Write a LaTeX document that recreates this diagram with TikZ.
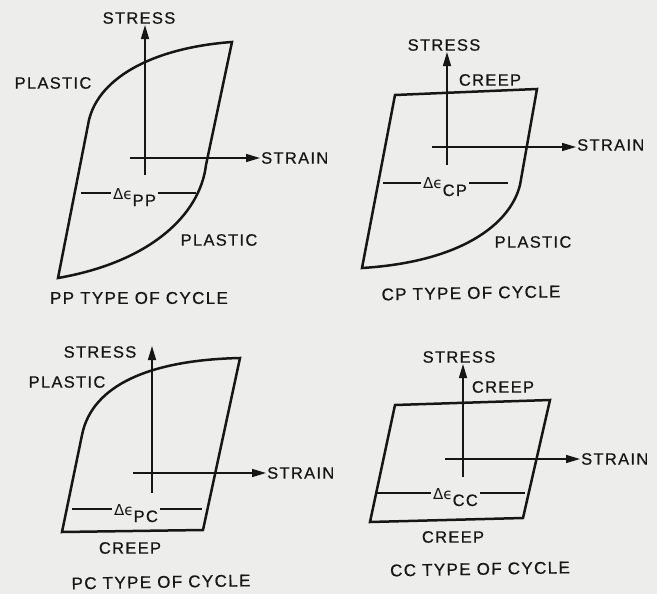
\documentclass[tikz,border=0pt]{standalone}
\usepackage{fontspec}
\usepackage{tikz}
\usetikzlibrary{arrows.meta}
\newfontfamily\labelfont{Liberation Sans}[LetterSpace=8, FakeBold=0.6]
\newfontfamily\greekfont{DejaVu Sans}
\definecolor{scanbg}{RGB}{237,237,235}
\definecolor{ink}{RGB}{22,22,22}
\tikzset{
  lbl/.style={inner sep=1pt, text=ink, font=\labelfont\fontsize{16.5}{18}\selectfont},
  title/.style={lbl, font=\labelfont\fontsize{17}{19}\selectfont},
  loopline/.style={draw=ink, line width=2.5pt, line join=miter},
  axis/.style={draw=ink, line width=1.5pt, -{Triangle[length=14pt,width=8pt]}},
  span/.style={draw=ink, line width=1.2pt},
  delta/.style={lbl, anchor=base west, inner xsep=2pt}
}
\newcommand{\dspan}[1]{{\greekfont\fontsize{15}{17}\selectfont Δϵ}\raisebox{-7pt}{#1}}

\begin{document}
\begin{tikzpicture}[x=1pt, y=-1pt]
  \fill[scanbg] (0,0) rectangle (657,594);
  \useasboundingbox (0,0) rectangle (657,594);

  % PP type of cycle
  \draw[loopline] (232,42) -- (206,165) .. controls (200,215) and (150,262) .. (58,278)
    -- (88,125) .. controls (95,80) and (150,48) .. cycle;
  \node[lbl] (pp-stress) at (139,18) {STRESS};
  \node[lbl, anchor=west] (pp-strain) at (260,158) {STRAIN};
  \coordinate (pp-y0) at (145,175);
  \coordinate (pp-x0) at (130,158);
  \draw[axis] (pp-y0) -- (pp-y0 |- pp-stress.south);
  \draw[axis] (pp-x0) -- (pp-strain.west);
  \node[lbl] (pp-top) at (53,83) {PLASTIC};
  \node[lbl] (pp-bot) at (219,240) {PLASTIC};
  \node[delta] (pp-d) at (111,199) {\dspan{PP}};
  \coordinate (pp-dl) at (81,193);
  \coordinate (pp-dr) at (196,193);
  \draw[span] (pp-dl) -- (pp-dl -| pp-d.west);
  \draw[span] (pp-dr -| pp-d.east) -- (pp-dr);
  \node[title] (pp-title) at (139,298) {PP TYPE OF CYCLE};

  % CP type of cycle
  \draw[loopline] (395,95) -- (537,89) -- (520,185) .. controls (510,225) and (460,262) .. (362,268) -- cycle;
  \node[lbl] (cp-stress) at (444,45) {STRESS};
  \node[lbl, anchor=west] (cp-strain) at (576,145) {STRAIN};
  \coordinate (cp-y0) at (447,165);
  \coordinate (cp-x0) at (432,147);
  \draw[axis] (cp-y0) -- (cp-y0 |- cp-stress.south);
  \draw[axis] (cp-x0) -- (cp-x0 -| cp-strain.west);
  \node[lbl] (cp-top) at (490,80) {CREEP};
  \node[lbl] (cp-bot) at (533,242) {PLASTIC};
  \node[delta] (cp-d) at (421,189) {\dspan{CP}};
  \coordinate (cp-dl) at (383,183);
  \coordinate (cp-dr) at (508,183);
  \draw[span] (cp-dl) -- (cp-dl -| cp-d.west);
  \draw[span] (cp-dr -| cp-d.east) -- (cp-dr);
  \node[title, rotate=1] (cp-title) at (471,293) {CP TYPE OF CYCLE};

  % PC type of cycle
  \draw[loopline] (240,358) -- (203,530) -- (62,532) -- (82,435) .. controls (92,385) and (150,360) .. cycle;
  \node[lbl] (pc-stress) at (100,352) {STRESS};
  \node[lbl, anchor=west] (pc-strain) at (266,473) {STRAIN};
  \coordinate (pc-y0) at (152,493);
  \coordinate (pc-y1) at (152,346);
  \coordinate (pc-x0) at (133,473);
  \draw[axis] (pc-y0) -- (pc-y1);
  \draw[axis] (pc-x0) -- (pc-strain.west);
  \node[lbl] (pc-top) at (67,382) {PLASTIC};
  \node[lbl] (pc-bot) at (130,548) {CREEP};
  \node[delta] (pc-d) at (112,515) {\dspan{PC}};
  \coordinate (pc-dl) at (72,509);
  \coordinate (pc-dr) at (202,509);
  \draw[span] (pc-dl) -- (pc-dl -| pc-d.west);
  \draw[span] (pc-dr -| pc-d.east) -- (pc-dr);
  \node[title, rotate=1] (pc-title) at (161,582) {PC TYPE OF CYCLE};

  % CC type of cycle
  \draw[loopline] (395,405) -- (550,400) -- (523,518) -- (370,522) -- cycle;
  \node[lbl] (cc-stress) at (459,357) {STRESS};
  \node[lbl, anchor=west] (cc-strain) at (580,459) {STRAIN};
  \coordinate (cc-y0) at (463,477);
  \coordinate (cc-x0) at (445,459);
  \draw[axis] (cc-y0) -- (cc-y0 |- cc-stress.south);
  \draw[axis] (cc-x0) -- (cc-strain.west);
  \node[lbl] (cc-top) at (503,387) {CREEP};
  \node[lbl] (cc-bot) at (453,537) {CREEP};
  \node[delta] (cc-d) at (431,499) {\dspan{CC}};
  \coordinate (cc-dl) at (377,493);
  \coordinate (cc-dr) at (525,493);
  \draw[span] (cc-dl) -- (cc-dl -| cc-d.west);
  \draw[span] (cc-dr -| cc-d.east) -- (cc-dr);
  \node[title, rotate=1] (cc-title) at (480,569) {CC TYPE OF CYCLE};
\end{tikzpicture}
\end{document}
